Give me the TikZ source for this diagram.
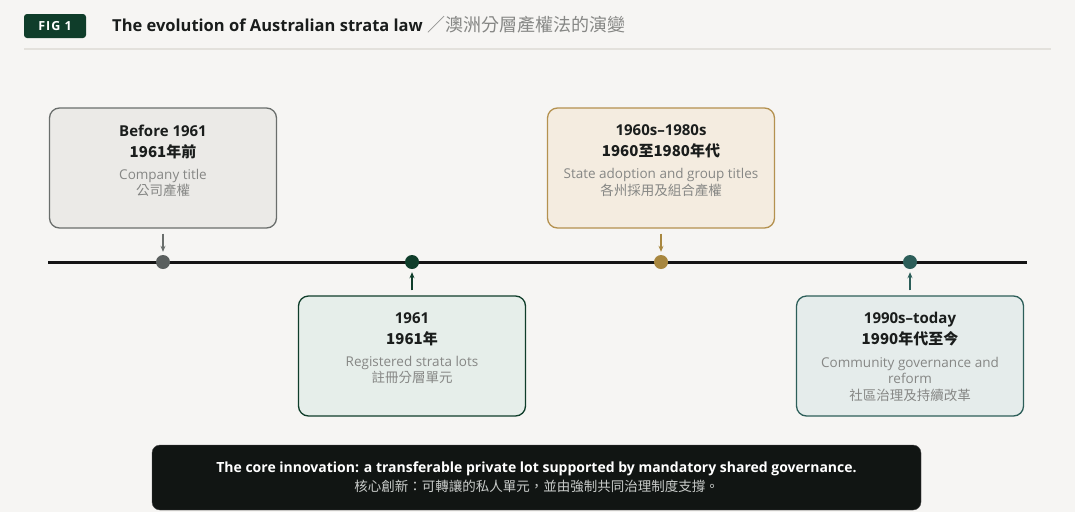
\documentclass[tikz,border=0pt]{standalone}
\usepackage{fontspec}
\setmainfont{Open Sans}
\newfontfamily\cjk{Noto Sans CJK TC}
\usetikzlibrary{positioning,arrows.meta}

\definecolor{pagebg}{HTML}{F6F5F3}
\definecolor{figgreen}{HTML}{0F3D2A}
\definecolor{inkdark}{HTML}{1A1D1C}
\definecolor{mutedgray}{HTML}{868785}
\definecolor{rulegray}{HTML}{E3E1DC}
\definecolor{earlyfill}{HTML}{EBEAE7}
\definecolor{earlyline}{HTML}{6A6E6C}
\definecolor{earlydot}{HTML}{5A5F5E}
\definecolor{stratafill}{HTML}{E6EEEA}
\definecolor{strataline}{HTML}{0F3D2A}
\definecolor{statefill}{HTML}{F4ECE0}
\definecolor{stateline}{HTML}{B4914F}
\definecolor{statedot}{HTML}{A8873F}
\definecolor{reformfill}{HTML}{E5ECEB}
\definecolor{reformline}{HTML}{2D5E59}
\definecolor{bannerbg}{HTML}{111513}
\definecolor{bannersub}{HTML}{C9CCCA}

\begin{document}
\begin{tikzpicture}[x=1pt,y=-1pt,>={Stealth[length=6pt,width=5pt]},
  box/.style={draw,line width=1.3pt,rounded corners=10pt,
    minimum width=227pt,minimum height=120pt,inner sep=0pt},
  dot/.style={circle,minimum size=14pt,inner sep=0pt},
  era/.style={align=center,inner sep=0pt,text=inkdark,
    font=\bfseries\fontsize{15}{21}\selectfont},
  note/.style={align=center,inner sep=0pt,text=mutedgray,
    font=\fontsize{13.5}{16.5}\selectfont},
  pointer/.style={->,line width=1.3pt,shorten <=5pt,shorten >=3pt}]

  %--- page ---
  \fill[pagebg] (0,0) rectangle (1075,512);
  \useasboundingbox (0,0) rectangle (1075,512);

  %--- header ---
  \node[fill=figgreen,rounded corners=3pt,minimum width=62pt,minimum height=24pt,
        inner sep=0pt,text=white,
        font=\bfseries\fontsize{12.5}{14}\selectfont\addfontfeatures{LetterSpace=8}]
        (fig) at (55,26) {FIG 1};
  \node[anchor=west,inner sep=0pt,text=inkdark,
        font=\bfseries\fontsize{16.5}{20}\selectfont] (title) at (112,25)
        {The evolution of Australian strata law\ %
         {\color{mutedgray}\mdseries\cjk\fontsize{18}{20}\selectfont ／澳洲分層產權法的演變}};
  \draw[rulegray,line width=1.5pt] (24,49) -- (1051,49);

  %--- timeline ---
  \coordinate (tlstart) at (48,262);
  \coordinate (tlend) at (1027,262);
  \draw[line width=3pt,black!92] (tlstart) -- (tlend);

  \node[dot,fill=earlydot] (d1) at (163,262) {};
  \node[dot,fill=strataline] (d2) at (412,262) {};
  \node[dot,fill=statedot] (d3) at (661,262) {};
  \node[dot,fill=reformline] (d4) at (910,262) {};

  %--- Before 1961 (above) ---
  \node[box,fill=earlyfill,draw=earlyline] (b1) at (163,168) {};
  \node[era,below=17pt of b1.north] (t1) {Before 1961\\{\cjk 1961年前}};
  \node[note,below=10pt of t1] (n1) {Company title\\{\cjk 公司產權}};
  \draw[pointer,earlyline] (b1.south) -- (d1.north);

  %--- 1961 (below) ---
  \node[box,fill=stratafill,draw=strataline] (b2) at (412,356) {};
  \node[era,below=17pt of b2.north] (t2) {1961\\{\cjk 1961年}};
  \node[note,below=10pt of t2] (n2) {Registered strata lots\\{\cjk 註冊分層單元}};
  \draw[pointer,strataline] (b2.north) -- (d2.south);

  %--- 1960s-1980s (above) ---
  \node[box,fill=statefill,draw=stateline] (b3) at (661,168) {};
  \node[era,below=17pt of b3.north] (t3) {1960s--1980s\\{\cjk 1960至1980年代}};
  \node[note,below=10pt of t3] (n3) {State adoption and group titles\\{\cjk 各州採用及組合產權}};
  \draw[pointer,statedot] (b3.south) -- (d3.north);

  %--- 1990s-today (below) ---
  \node[box,fill=reformfill,draw=reformline] (b4) at (910,356) {};
  \node[era,below=17pt of b4.north] (t4) {1990s--today\\{\cjk 1990年代至今}};
  \node[note,below=10pt of t4] (n4) {Community governance and\\reform\\{\cjk 社區治理及持續改革}};
  \draw[pointer,reformline] (b4.north) -- (d4.south);

  %--- takeaway banner ---
  \node[fill=bannerbg,draw=black!70,rounded corners=8pt,minimum width=769pt,
        minimum height=65pt,align=center,text=white,
        font=\fontsize{14}{19}\selectfont] (core) at (536.5,477.5)
        {\textbf{The core innovation: a transferable private lot supported by mandatory shared governance.}\\
         {\color{bannersub}\cjk\fontsize{13.5}{16}\selectfont 核心創新：可轉讓的私人單元，並由強制共同治理制度支撐。}};

\end{tikzpicture}
\end{document}
